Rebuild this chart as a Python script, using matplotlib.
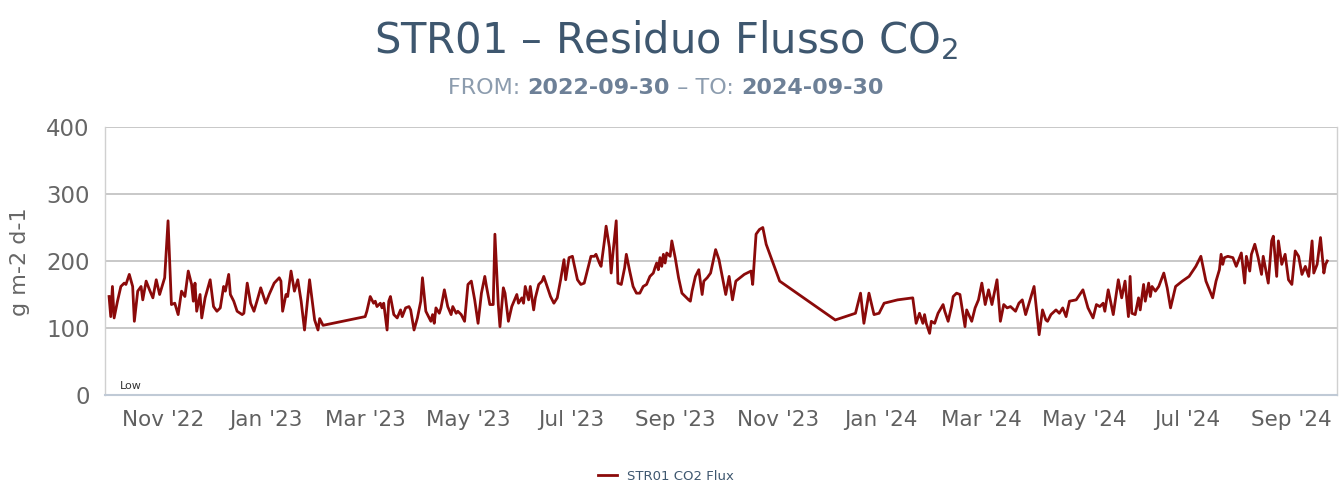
import matplotlib
matplotlib.use("Agg")
import matplotlib.pyplot as plt
import matplotlib.dates as mdates
import pandas as pd

plt.rcParams['font.family'] = ['DejaVu Sans']

title = "STR01 – Residuo Flusso CO$_2$"
date_from = "2022-09-30"
date_to = "2024-09-30"
series_name = "STR01 CO2 Flux"
y_label = "g m-2 d-1"
y_ticks = [0, 100, 200, 300, 400]

dates = [
    "2022-09-30", "2022-10-01", "2022-10-02", "2022-10-03", "2022-10-05", "2022-10-07", "2022-10-09", "2022-10-10",
    "2022-10-12", "2022-10-14", "2022-10-15", "2022-10-17", "2022-10-19", "2022-10-20", "2022-10-22", "2022-10-24",
    "2022-10-26", "2022-10-28", "2022-10-30", "2022-11-02", "2022-11-04", "2022-11-06", "2022-11-08", "2022-11-10",
    "2022-11-12", "2022-11-14", "2022-11-16", "2022-11-18", "2022-11-19", "2022-11-20", "2022-11-21", "2022-11-23",
    "2022-11-24", "2022-11-26", "2022-11-29", "2022-12-01", "2022-12-03", "2022-12-05", "2022-12-07", "2022-12-08",
    "2022-12-10", "2022-12-11", "2022-12-13", "2022-12-15", "2022-12-18", "2022-12-19", "2022-12-21", "2022-12-23",
    "2022-12-25", "2022-12-27", "2022-12-29", "2023-01-01", "2023-01-03", "2023-01-06", "2023-01-09", "2023-01-10",
    "2023-01-11", "2023-01-13", "2023-01-14", "2023-01-16", "2023-01-18", "2023-01-20", "2023-01-22", "2023-01-24",
    "2023-01-27", "2023-01-30", "2023-02-01", "2023-02-02", "2023-02-04", "2023-03-01", "2023-03-02", "2023-03-04",
    "2023-03-06", "2023-03-07", "2023-03-08", "2023-03-10", "2023-03-11", "2023-03-12", "2023-03-14", "2023-03-15",
    "2023-03-16", "2023-03-18", "2023-03-20", "2023-03-22", "2023-03-23", "2023-03-25", "2023-03-27", "2023-03-28",
    "2023-03-30", "2023-04-01", "2023-04-03", "2023-04-04", "2023-04-06", "2023-04-07", "2023-04-09", "2023-04-10",
    "2023-04-11", "2023-04-12", "2023-04-14", "2023-04-15", "2023-04-17", "2023-04-19", "2023-04-21", "2023-04-22",
    "2023-04-24", "2023-04-25", "2023-04-27", "2023-04-29", "2023-05-01", "2023-05-03", "2023-05-05", "2023-05-07",
    "2023-05-09", "2023-05-11", "2023-05-12", "2023-05-14", "2023-05-16", "2023-05-17", "2023-05-19", "2023-05-20",
    "2023-05-22", "2023-05-23", "2023-05-25", "2023-05-27", "2023-05-30", "2023-05-31", "2023-06-02", "2023-06-03",
    "2023-06-04", "2023-06-06", "2023-06-07", "2023-06-09", "2023-06-10", "2023-06-12", "2023-06-14", "2023-06-15",
    "2023-06-17", "2023-06-19", "2023-06-21", "2023-06-23", "2023-06-25", "2023-06-27", "2023-06-28", "2023-06-30",
    "2023-07-02", "2023-07-03", "2023-07-05", "2023-07-07", "2023-07-09", "2023-07-11", "2023-07-13", "2023-07-15",
    "2023-07-16", "2023-07-18", "2023-07-19", "2023-07-21", "2023-07-22", "2023-07-24", "2023-07-25", "2023-07-26",
    "2023-07-28", "2023-07-29", "2023-07-31", "2023-08-02", "2023-08-03", "2023-08-05", "2023-08-07", "2023-08-09",
    "2023-08-11", "2023-08-13", "2023-08-15", "2023-08-17", "2023-08-19", "2023-08-20", "2023-08-21", "2023-08-22",
    "2023-08-23", "2023-08-24", "2023-08-25", "2023-08-26", "2023-08-27", "2023-08-29", "2023-08-30", "2023-09-01",
    "2023-09-03", "2023-09-05", "2023-09-07", "2023-09-09", "2023-09-10", "2023-09-11", "2023-09-13", "2023-09-15",
    "2023-09-17", "2023-09-18", "2023-09-20", "2023-09-22", "2023-09-24", "2023-09-25", "2023-09-27", "2023-10-01",
    "2023-10-03", "2023-10-05", "2023-10-07", "2023-10-12", "2023-10-16", "2023-10-17", "2023-10-19", "2023-10-21",
    "2023-10-23", "2023-10-25", "2023-11-02", "2023-12-05", "2023-12-17", "2023-12-20", "2023-12-22", "2023-12-25",
    "2023-12-28", "2023-12-31", "2024-01-03", "2024-01-11", "2024-01-20", "2024-01-22", "2024-01-24", "2024-01-26",
    "2024-01-27", "2024-01-28", "2024-01-30", "2024-01-31", "2024-02-02", "2024-02-04", "2024-02-07", "2024-02-08",
    "2024-02-10", "2024-02-12", "2024-02-13", "2024-02-15", "2024-02-17", "2024-02-20", "2024-02-21", "2024-02-24",
    "2024-02-26", "2024-02-28", "2024-03-01", "2024-03-03", "2024-03-05", "2024-03-07", "2024-03-10", "2024-03-12",
    "2024-03-14", "2024-03-16", "2024-03-18", "2024-03-21", "2024-03-23", "2024-03-25", "2024-03-27", "2024-04-01",
    "2024-04-04", "2024-04-06", "2024-04-08", "2024-04-09", "2024-04-11", "2024-04-14", "2024-04-16", "2024-04-18",
    "2024-04-20", "2024-04-22", "2024-04-26", "2024-04-30", "2024-05-03", "2024-05-06", "2024-05-08", "2024-05-10",
    "2024-05-12", "2024-05-13", "2024-05-15", "2024-05-18", "2024-05-21", "2024-05-23", "2024-05-25", "2024-05-27",
    "2024-05-28", "2024-05-29", "2024-05-31", "2024-06-02", "2024-06-03", "2024-06-05", "2024-06-06", "2024-06-08",
    "2024-06-09", "2024-06-10", "2024-06-12", "2024-06-14", "2024-06-17", "2024-06-19", "2024-06-21", "2024-06-24",
    "2024-06-28", "2024-07-02", "2024-07-06", "2024-07-09", "2024-07-12", "2024-07-16", "2024-07-18", "2024-07-20",
    "2024-07-21", "2024-07-22", "2024-07-23", "2024-07-25", "2024-07-28", "2024-07-30", "2024-08-02", "2024-08-04",
    "2024-08-05", "2024-08-07", "2024-08-08", "2024-08-10", "2024-08-12", "2024-08-14", "2024-08-15", "2024-08-18",
    "2024-08-20", "2024-08-21", "2024-08-23", "2024-08-24", "2024-08-26", "2024-08-28", "2024-08-30", "2024-09-01",
    "2024-09-03", "2024-09-05", "2024-09-07", "2024-09-09", "2024-09-11", "2024-09-13", "2024-09-14", "2024-09-16",
    "2024-09-18", "2024-09-20", "2024-09-21", "2024-09-22",
]

flux = [
    147, 117, 162, 115, 140, 162, 167, 165,
    180, 162, 110, 155, 162, 142, 170, 157,
    145, 172, 150, 175, 260, 135, 137, 120,
    155, 147, 185, 165, 140, 167, 125, 150,
    115, 145, 172, 132, 125, 130, 162, 155,
    180, 150, 140, 125, 120, 122, 167, 137,
    125, 142, 160, 137, 150, 167, 175, 170,
    125, 150, 147, 185, 155, 172, 140, 97,
    172, 112, 97, 114, 104, 117, 125, 147,
    137, 140, 132, 137, 130, 137, 97, 140,
    147, 120, 115, 127, 117, 130, 132, 127,
    97, 115, 140, 175, 125, 120, 110, 120,
    107, 130, 122, 130, 157, 132, 120, 132,
    122, 125, 120, 110, 165, 170, 142, 107,
    152, 177, 162, 135, 135, 240, 135, 102,
    160, 152, 110, 132, 150, 137, 145, 137,
    162, 142, 162, 127, 145, 165, 170, 177,
    162, 147, 137, 145, 172, 202, 172, 205,
    207, 195, 172, 165, 167, 187, 207, 207,
    210, 197, 192, 230, 252, 220, 182, 210,
    260, 167, 165, 190, 210, 185, 162, 152,
    152, 162, 165, 177, 182, 190, 197, 187,
    205, 192, 210, 197, 212, 207, 230, 205,
    175, 152, 147, 142, 140, 155, 177, 187,
    150, 170, 175, 182, 205, 217, 202, 150,
    177, 142, 170, 180, 185, 165, 240, 247,
    250, 225, 170, 112, 122, 152, 107, 152,
    120, 122, 137, 142, 145, 107, 122, 107,
    120, 107, 92, 110, 107, 122, 135, 125,
    110, 132, 147, 152, 150, 102, 127, 110,
    130, 142, 167, 135, 157, 135, 172, 110,
    135, 130, 132, 125, 137, 142, 120, 162,
    90, 127, 112, 110, 120, 127, 122, 130,
    117, 140, 142, 157, 130, 115, 135, 132,
    137, 125, 157, 120, 172, 145, 170, 117,
    177, 122, 120, 145, 127, 165, 140, 167,
    147, 162, 155, 162, 182, 160, 130, 162,
    170, 177, 192, 207, 170, 145, 170, 187,
    210, 195, 205, 207, 205, 192, 212, 167,
    207, 185, 210, 225, 205, 180, 207, 167,
    230, 237, 177, 230, 195, 210, 172, 165,
    215, 207, 180, 192, 177, 230, 182, 195,
    235, 182, 195, 200,
]

x = pd.to_datetime(dates)

W, H, DPI = 1341, 482, 100
fig = plt.figure(figsize=(W / DPI, H / DPI), dpi=DPI)
fig.patch.set_facecolor("white")
ax = fig.add_axes([105 / W, 1 - 395 / H, (1337 - 105) / W, (395 - 127) / H])

ax.plot(x, flux, color="#8B0A0A", lw=2.0, label=series_name, solid_joinstyle="round")

ax.set_ylim(0, 400)
ax.set_yticks(y_ticks)
ax.set_xlim(pd.Timestamp("2022-09-27 14:00"), pd.Timestamp("2024-09-27 19:00"))
ax.xaxis.set_major_locator(mdates.MonthLocator(bymonth=[1, 3, 5, 7, 9, 11]))
ax.xaxis.set_major_formatter(mdates.DateFormatter("%b '%y"))

ax.grid(axis="y", color="#c4c4c4", lw=1.3)
ax.grid(axis="x", visible=False)
ax.set_axisbelow(True)
for s in ["left", "right", "top"]:
    ax.spines[s].set_color("#d0d0d0")
    ax.spines[s].set_linewidth(1.0)
ax.spines["top"].set_visible(False)
ax.spines["bottom"].set_color("#c0cad6")
ax.spines["bottom"].set_linewidth(1.5)

ax.tick_params(axis="y", length=0, pad=11, labelsize=16.5, labelcolor="#666666")
ax.tick_params(axis="x", length=0, pad=11, labelsize=15.5, labelcolor="#606060")

fig.text(20 / W, 1 - 262 / H, y_label, rotation=90, ha="center", va="center",
         fontsize=16, color="#666666")

ax.text(0.012, 0.015, "Low", transform=ax.transAxes, fontsize=8, color="#333333",
        ha="left", va="bottom")

fig.text(666 / W, 1 - 40 / H, title, ha="center", va="center", fontsize=30, color="#3E576F")

# subtitle with mixed weights, centred
parts = [("FROM: ", "normal", "#8c9cae"), (date_from, "bold", "#6d8097"),
         (" – TO: ", "normal", "#8c9cae"), (date_to, "bold", "#6d8097")]
texts = [fig.text(0, 1 - 88 / H, p, fontsize=16, fontweight=w, color=c, va="center", ha="left")
         for p, w, c in parts]
fig.canvas.draw()
r = fig.canvas.get_renderer()
widths = [t.get_window_extent(r).width for t in texts]
total = sum(widths)
xpos = 666 - total / 2
for t, w in zip(texts, widths):
    t.set_x(xpos / W)
    xpos += w

fig.legend(loc="center", bbox_to_anchor=(666 / W, 1 - 476 / H), frameon=False,
           fontsize=9.5, handlelength=1.4, labelcolor="#3E576F")

fig.savefig("out.png", dpi=DPI, facecolor="white")
